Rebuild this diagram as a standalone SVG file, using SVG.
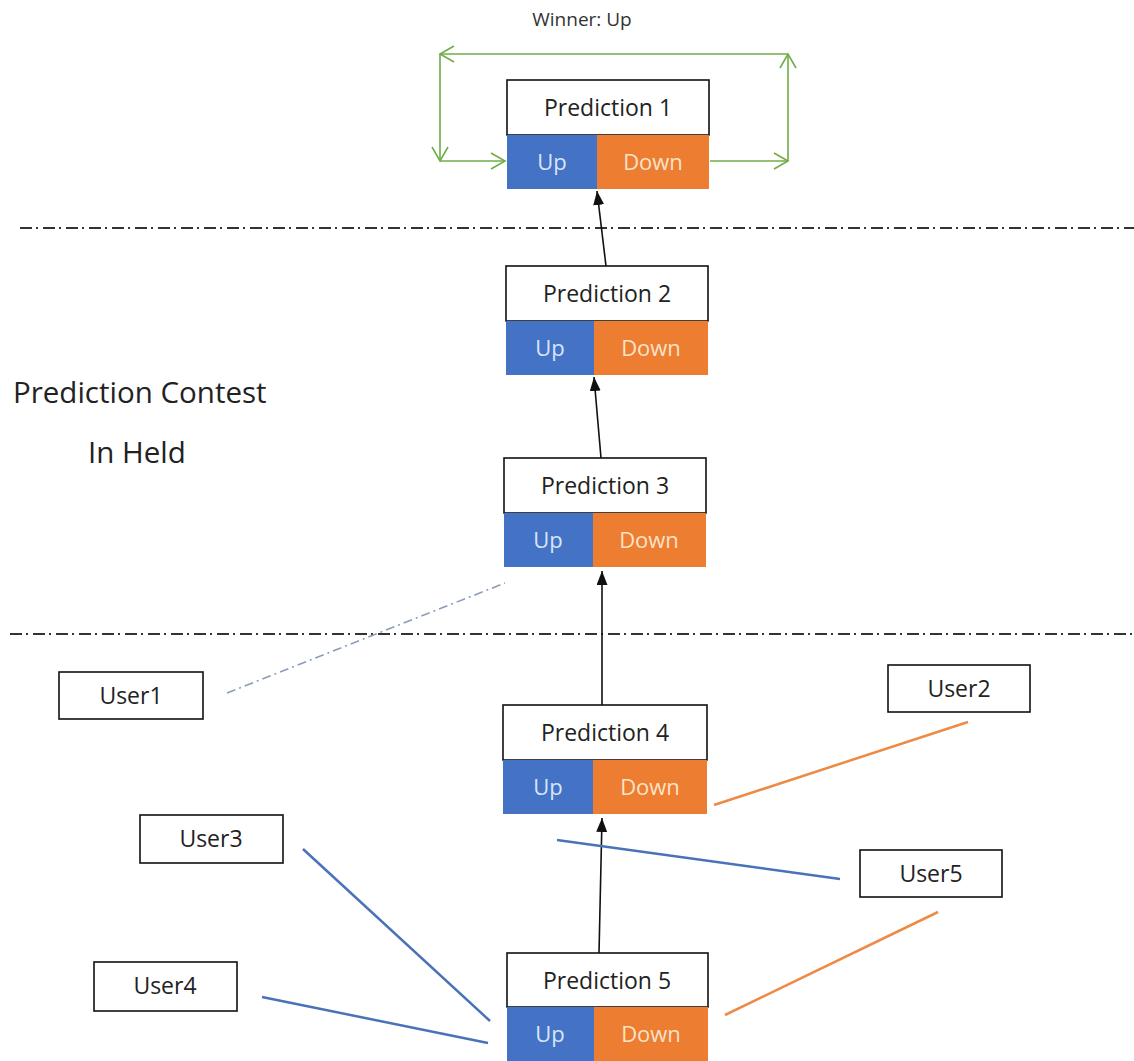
<svg xmlns="http://www.w3.org/2000/svg" width="1134" height="1061" viewBox="0 0 1134 1061">
<defs>
<style>
text{font-family:"Open Sans","Noto Sans","DejaVu Sans",sans-serif;}
.box{fill:#fff;stroke:#111;stroke-width:1.6;}
.up{fill:#4472C4;}
.down{fill:#ED7D31;}
.title{font-size:23px;fill:#222;text-anchor:middle;}
.ut{font-size:22px;fill:#D6E6FA;text-anchor:middle;}
.dt{font-size:22px;fill:#FCE3C8;text-anchor:middle;}
.lbl{font-size:23px;fill:#222;text-anchor:middle;}
.big{font-size:29.5px;fill:#222;}
.sep{stroke:#333;stroke-width:1.8;stroke-dasharray:12 4 2 5;fill:none;}
.arr{stroke:#111;stroke-width:1.6;fill:none;marker-end:url(#ah);}
.g{stroke:#70AD47;stroke-width:1.6;fill:none;marker-end:url(#gh);}
.bl{stroke:#4A72B8;stroke-width:2.5;fill:none;}
.or{stroke:#ED8A45;stroke-width:2.5;fill:none;}
.dd{stroke:#8C9DB5;stroke-width:1.6;fill:none;stroke-dasharray:9 4 2 4;}
</style>
<marker id="ah" markerUnits="userSpaceOnUse" markerWidth="16" markerHeight="12" refX="14" refY="5.5" orient="auto">
<path d="M0,0 L14,5.5 L0,11 Z" fill="#111"/>
</marker>
<marker id="gh" markerUnits="userSpaceOnUse" markerWidth="18" markerHeight="20" refX="15" refY="9" orient="auto">
<path d="M1,1 L15,9 L1,17" fill="none" stroke="#70AD47" stroke-width="1.6"/>
</marker>
</defs>
<rect width="1134" height="1061" fill="#fff"/>

<text x="582" y="26" font-size="19" fill="#333" text-anchor="middle">Winner: Up</text>
<text class="big" x="13" y="403">Prediction Contest</text>
<text class="big" x="88" y="463">In Held</text>

<line class="sep" x1="20" y1="228" x2="1134" y2="228"/>
<line class="sep" x1="10" y1="634" x2="1134" y2="634"/>

<g id="connectors">
<path class="g" d="M710,161 H788"/>
<path class="g" d="M788,161 V54"/>
<path class="g" d="M788,54 H440"/>
<path class="g" d="M440,54 V161"/>
<path class="g" d="M440,161 H505"/>
<line class="arr" x1="606" y1="266" x2="597" y2="191"/>
<line class="arr" x1="601" y1="458" x2="594" y2="377"/>
<line class="arr" x1="602" y1="705" x2="602" y2="571"/>
<line class="arr" x1="599" y1="953" x2="602" y2="818"/>
<line class="dd" x1="227" y1="693" x2="505" y2="583"/>
<line class="or" x1="714" y1="805" x2="968" y2="722"/>
<line class="bl" x1="557" y1="840" x2="840" y2="879"/>
<line class="bl" x1="303" y1="849" x2="490" y2="1021"/>
<line class="bl" x1="262" y1="997" x2="488" y2="1043"/>
<line class="or" x1="725" y1="1015" x2="938" y2="912"/>
</g>

<g id="pred1">
<rect class="box" x="507" y="80" width="202" height="55"/>
<rect class="up" x="507" y="135" width="90" height="54"/>
<rect class="down" x="597" y="135" width="112" height="54"/>
<text class="title" x="608" y="116">Prediction 1</text>
<text class="ut" x="552" y="170">Up</text>
<text class="dt" x="653" y="170">Down</text>
</g>
<g id="pred2">
<rect class="box" x="506" y="266" width="202" height="55"/>
<rect class="up" x="506" y="321" width="88" height="54"/>
<rect class="down" x="594" y="321" width="114" height="54"/>
<text class="title" x="607" y="302">Prediction 2</text>
<text class="ut" x="550" y="356">Up</text>
<text class="dt" x="651" y="356">Down</text>
</g>
<g id="pred3">
<rect class="box" x="504" y="458" width="202" height="55"/>
<rect class="up" x="504" y="513" width="89" height="54"/>
<rect class="down" x="593" y="513" width="113" height="54"/>
<text class="title" x="605" y="494">Prediction 3</text>
<text class="ut" x="548" y="548">Up</text>
<text class="dt" x="649" y="548">Down</text>
</g>
<g id="pred4">
<rect class="box" x="503" y="705" width="204" height="55"/>
<rect class="up" x="503" y="760" width="90" height="54"/>
<rect class="down" x="593" y="760" width="114" height="54"/>
<text class="title" x="605" y="741">Prediction 4</text>
<text class="ut" x="548" y="795">Up</text>
<text class="dt" x="650" y="795">Down</text>
</g>
<g id="pred5">
<rect class="box" x="507" y="953" width="201" height="54"/>
<rect class="up" x="507" y="1007" width="87" height="54"/>
<rect class="down" x="594" y="1007" width="114" height="54"/>
<text class="title" x="607" y="989">Prediction 5</text>
<text class="ut" x="550" y="1042">Up</text>
<text class="dt" x="651" y="1042">Down</text>
</g>

<g id="user1"><rect class="box" x="59" y="672" width="144" height="47"/><text class="lbl" x="131" y="704">User1</text></g>
<g id="user2"><rect class="box" x="888" y="665" width="142" height="47"/><text class="lbl" x="959" y="697">User2</text></g>
<g id="user3"><rect class="box" x="140" y="815" width="143" height="48"/><text class="lbl" x="211" y="847">User3</text></g>
<g id="user4"><rect class="box" x="94" y="962" width="143" height="49"/><text class="lbl" x="165" y="994">User4</text></g>
<g id="user5"><rect class="box" x="860" y="850" width="142" height="47"/><text class="lbl" x="931" y="882">User5</text></g>
</svg>
